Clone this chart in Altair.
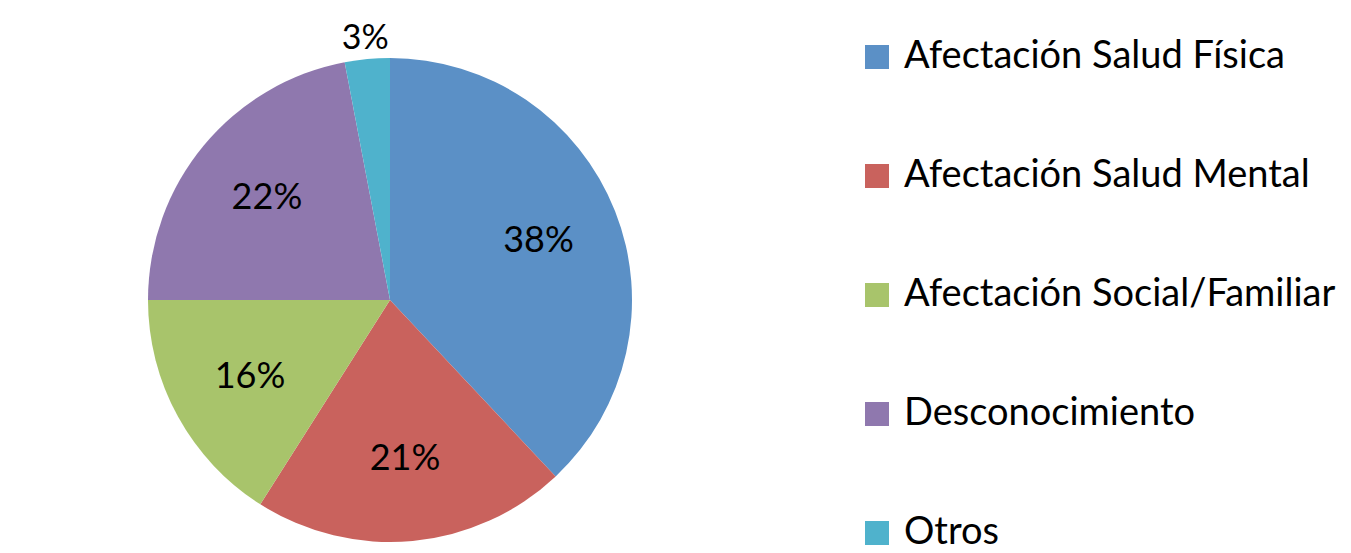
import altair as alt
import pandas as pd

categorias = ["Afectación Salud Física", "Afectación Salud Mental",
              "Afectación Social/Familiar", "Desconocimiento", "Otros"]
valores = [38, 21, 16, 22, 3]
etiquetas = ["38%", "21%", "16%", "22%", "3%"]
colores = ["#5B90C6", "#C9625D", "#A8C46B", "#8F78AE", "#4FB2CC"]

df = pd.DataFrame({
    "categoria": categorias,
    "valor": valores,
    "etiqueta": etiquetas,
    "orden": list(range(len(categorias))),
})

CX, CY, R = 382, 292, 242
theta_scale = alt.Scale(domain=[0, 100], range=[0, 6.283185307179586])

base = alt.Chart(df).transform_window(
    fin="sum(valor)", sort=[alt.SortField("orden")], frame=[None, 0]
).transform_calculate(
    inicio="datum.fin - datum.valor",
    medio="datum.fin - datum.valor / 2",
)

pie = base.mark_arc(outerRadius=R, strokeWidth=0).encode(
    x=alt.value(CX), y=alt.value(CY),
    theta=alt.Theta("inicio:Q", scale=theta_scale),
    theta2="fin:Q",
    color=alt.Color(
        "categoria:N",
        scale=alt.Scale(domain=categorias, range=colores),
        sort=categorias,
        legend=alt.Legend(
            title=None, orient="none", legendX=850, legendY=30,
            symbolType="square", symbolSize=576, symbolStrokeWidth=0,
            labelFontSize=38, labelFont="Lato", labelColor="black",
            rowPadding=81, labelOffset=8, labelLimit=600,
        ),
    ),
)

text_in = base.transform_filter("datum.valor >= 5").mark_text(
    radius=R * 0.66, fontSize=36, font="Lato", color="black"
).encode(
    x=alt.value(CX), y=alt.value(CY),
    theta=alt.Theta("medio:Q", scale=theta_scale),
    text="etiqueta:N",
)

text_out = base.transform_filter("datum.valor < 5").mark_text(
    radius=R + 20, fontSize=34, font="Lato", color="black"
).encode(
    x=alt.value(CX), y=alt.value(CY),
    theta=alt.Theta("medio:Q", scale=theta_scale),
    text="etiqueta:N",
)

chart = (pie + text_in + text_out).properties(
    width=1335, height=545, padding=0, autosize=alt.AutoSizeParams(type="none")
).configure_view(stroke=None)

chart.save("out.html", embed_options={"renderer": "svg", "actions": False})
